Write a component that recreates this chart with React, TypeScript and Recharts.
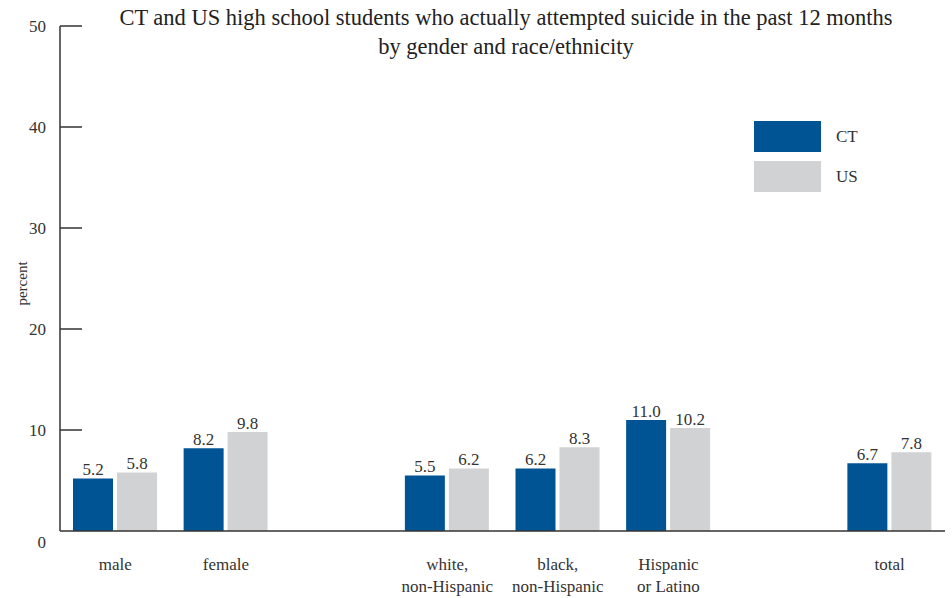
import { Bar, BarChart, LabelList, XAxis, YAxis } from "recharts";

const CATEGORIES = ["male", "female", "gap1", "white", "black", "hispanic", "gap2", "total"];
const CATEGORY_LABELS = [
  ["male"],
  ["female"],
  [],
  ["white,", "non-Hispanic"],
  ["black,", "non-Hispanic"],
  ["Hispanic", "or Latino"],
  [],
  ["total"],
];
const CT_VALUES = [5.2, 8.2, null, 5.5, 6.2, 11.0, null, 6.7];
const US_VALUES = [5.8, 9.8, null, 6.2, 8.3, 10.2, null, 7.8];
const Y_TICKS = [0, 10, 20, 30, 40, 50];
const SERIES = [
  { name: "CT", color: "#005494" },
  { name: "US", color: "#d1d2d4" },
];

const INK = "#333";
const FONT = "'Liberation Serif', 'DejaVu Serif', serif";

const data = CATEGORIES.map((key, i) => ({ key, ct: CT_VALUES[i], us: US_VALUES[i] }));

function YTick({ x, y, payload }: any) {
  const isZero = payload.value === 0;
  return (
    <g>
      {!isZero && <line x1={x} x2={x + 22} y1={y} y2={y} stroke={INK} strokeWidth={1.5} />}
      <text x={x - 14} y={y + (isZero ? 11 : 0)} dy="0.35em" textAnchor="end" fontSize={17} fill={INK} fontFamily={FONT}>
        {payload.value}
      </text>
    </g>
  );
}

function XTick({ x, y, index }: any) {
  const lines = CATEGORY_LABELS[index] ?? [];
  return (
    <text x={x} y={y} textAnchor="middle" fontSize={17} fill={INK} fontFamily={FONT}>
      {lines.map((l, i) => (
        <tspan key={i} x={x} dy={i === 0 ? 39 : 22}>
          {l}
        </tspan>
      ))}
    </text>
  );
}

const fmt = (v: any) => (v == null ? "" : Number(v).toFixed(1));

export default function App() {
  return (
    <div style={{ position: "absolute", left: 0, top: 0, width: 952, height: 598, background: "#fff" }}>
      <div
        style={{
          position: "absolute",
          left: 60,
          right: 0,
          top: 3,
          textAlign: "center",
          fontFamily: FONT,
          fontSize: 22.5,
          lineHeight: "29px",
          color: "#222",
          zIndex: 2,
        }}
      >
        CT and US high school students who actually attempted suicide in the past 12 months
        <br />
        by gender and race/ethnicity
      </div>
      <div style={{ position: "absolute", left: 754, top: 121, fontFamily: FONT, fontSize: 17, color: INK, zIndex: 2 }}>
        {SERIES.map((s) => (
          <div key={s.name} style={{ display: "flex", alignItems: "center", height: 31, marginBottom: 9 }}>
            <span style={{ width: 67, height: 31, background: s.color, display: "inline-block" }} />
            <span style={{ marginLeft: 15 }}>{s.name}</span>
          </div>
        ))}
      </div>
      <BarChart
        width={952}
        height={598}
        data={data}
        margin={{ top: 26, right: 7, left: 0, bottom: 0 }}
        barSize={40}
        barGap={4}
      >
        <XAxis
          dataKey="key"
          height={67}
          axisLine={{ stroke: INK, strokeWidth: 1.5 }}
          tickLine={false}
          tickSize={0}
          tickMargin={0}
          tick={<XTick />}
          interval={0}
        />
        <YAxis
          width={60}
          domain={[0, 50]}
          ticks={Y_TICKS}
          axisLine={{ stroke: INK, strokeWidth: 1.5 }}
          tickLine={false}
          tickSize={0}
          tickMargin={0}
          tick={<YTick />}
          label={{
            value: "percent",
            angle: -90,
            position: "insideLeft",
            offset: 0,
            dx: 22,
            dy: 5,
            textAnchor: "middle",
            fontSize: 15,
            fill: INK,
            fontFamily: FONT,
          }}
        />
        <Bar dataKey="ct" name="CT" fill={SERIES[0].color} isAnimationActive={false}>
          <LabelList dataKey="ct" position="top" offset={3} fontSize={17} fill={INK} fontFamily={FONT} formatter={fmt} />
        </Bar>
        <Bar dataKey="us" name="US" fill={SERIES[1].color} isAnimationActive={false}>
          <LabelList dataKey="us" position="top" offset={3} fontSize={17} fill={INK} fontFamily={FONT} formatter={fmt} />
        </Bar>
      </BarChart>
    </div>
  );
}
